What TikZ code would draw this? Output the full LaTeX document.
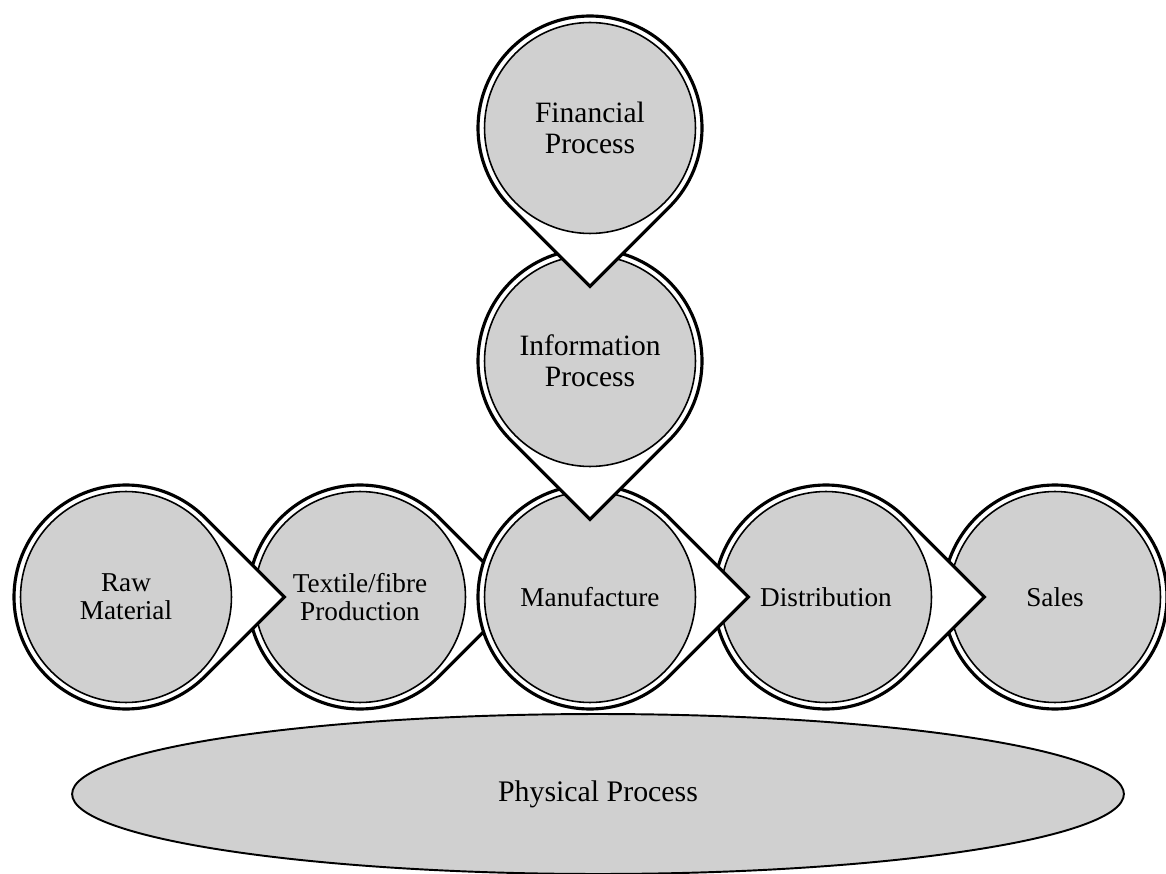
\documentclass[tikz,border=0pt]{standalone}
\usepackage{fontspec}
\setmainfont{Liberation Serif}
\usetikzlibrary{calc,shapes.geometric}
\definecolor{discgray}{RGB}{208,208,208}
\tikzset{
  pinrim/.style={draw=black, line width=1.8pt, fill=white, line join=miter},
  disc/.style={circle, draw=black, line width=0.9pt, fill=discgray,
    minimum size=4.22cm, inner sep=0pt, align=center,
    font=\fontsize{15.5}{16}\selectfont},
  talldisc/.style={disc, font=\fontsize{16.8}{17.6}\selectfont},
  basebar/.style={ellipse, draw=black, line width=1.1pt, fill=discgray,
    minimum width=21.04cm, minimum height=3.2cm, inner sep=0pt,
    font=\fontsize{17}{17.5}\selectfont}
}
% white rim of a stage with its pointer: #1 centre, #2 pointer direction
\newcommand\drawpin[2]{%
  \path[pinrim] (#1) ++(#2+45:112) arc[start angle=#2+45, end angle=#2+315, radius=112]
    -- ($(#1)+(#2:158.4)$) -- cycle;}
% white rim of a stage with no pointer
\newcommand\drawrim[1]{%
  \path[pinrim] (#1) circle[radius=112];}
\begin{document}
\begin{tikzpicture}[x=0.02cm,y=0.02cm]
\useasboundingbox (0,0) rectangle (1166,873);

% base of the diagram
\node[basebar] (phys) at (598,79) {Physical Process};

% stage centres
\coordinate (fin-c) at (590,745);
\coordinate (inf-c) at (590,512);
\coordinate (man-c) at (590,276);
\coordinate (raw-c) at (126,276);
\coordinate (tex-c) at (360,276);
\coordinate (dis-c) at (826,276);
\coordinate (sal-c) at (1055,276);

% stages, back to front
\drawpin{tex-c}{0}
\node[disc] (tex) at (tex-c) {Textile/fibre\\Production};

\drawpin{raw-c}{0}
\node[disc] (raw) at (raw-c) {Raw\\Material};

\drawrim{sal-c}
\node[disc] (sal) at (sal-c) {Sales};

\drawpin{dis-c}{0}
\node[disc] (dis) at (dis-c) {Distribution};

\drawpin{man-c}{0}
\node[disc] (man) at (man-c) {Manufacture};

\drawpin{inf-c}{-90}
\node[talldisc] (inf) at (inf-c) {Information\\Process};

\drawpin{fin-c}{-90}
\node[talldisc] (fin) at (fin-c) {Financial\\Process};
\end{tikzpicture}
\end{document}
